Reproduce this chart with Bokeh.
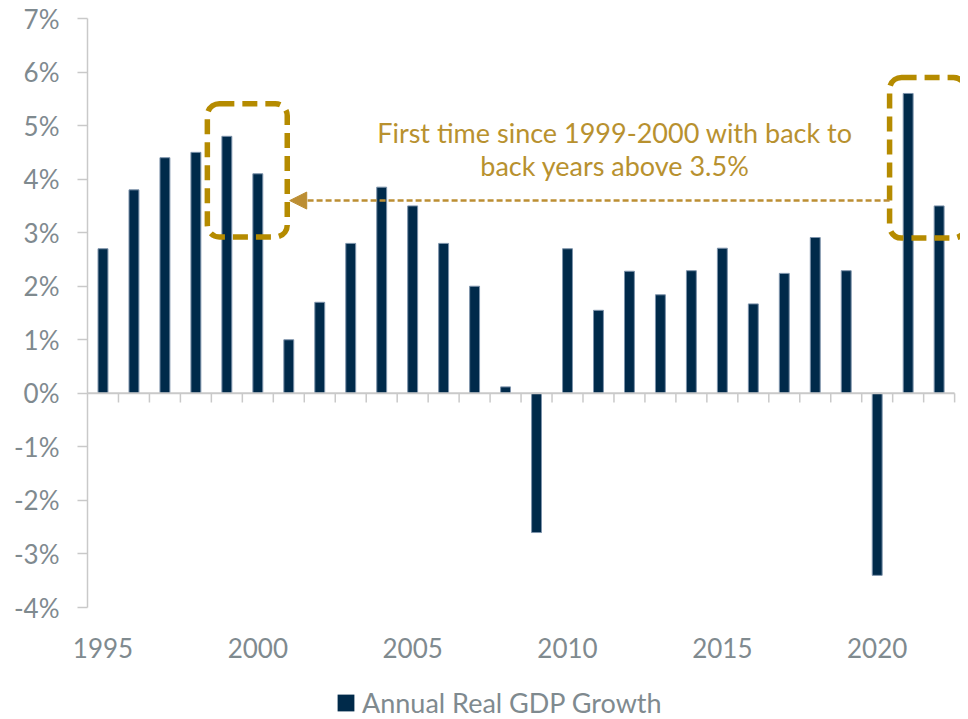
from bokeh.plotting import figure
from bokeh.layouts import column
from bokeh.models import (FixedTicker, LinearAxis, Range1d, BoxAnnotation, Arrow, NormalHead,
                          Label, Legend, LegendItem)
from bokeh.embed import file_html
from bokeh.resources import INLINE

# ---- data ----
years = list(range(1995, 2023))
growth = [2.7, 3.8, 4.4, 4.5, 4.8, 4.1, 1.0, 1.7, 2.8, 3.85, 3.5, 2.8, 2.0, 0.12, -2.6,
          2.7, 1.55, 2.28, 1.84, 2.29, 2.71, 1.67, 2.24, 2.91, 2.29, -3.4, 5.6, 3.5]
y_ticks = [-4, -3, -2, -1, 0, 1, 2, 3, 4, 5, 6, 7]
x_ticks = [1995, 2000, 2005, 2010, 2015, 2020]
series_name = "Annual Real GDP Growth"
note_lines = ["First time since 1999-2000 with back to", "back years above 3.5%"]

# annotation geometry (data units)
box1 = dict(left=1998.37, right=2000.95, bottom=2.92, top=5.41)
box2 = dict(left=2020.40, right=2022.85, bottom=2.90, top=5.90)
arrow_y = 3.6
note_x = 2011.53
note_y = [4.88, 4.26]

FONT = "Lato"
GRAY = "#7f8a8f"
AXIS = "#c9c9c9"
NAVY = "#002a4a"
BAR_EDGE = "#7d93ab"
GOLD_BOX = "#b58b00"
GOLD_TXT = "#b8912f"
GOLD_ARROW = "#bc8e33"

p = figure(width=960, height=664, output_backend="svg", toolbar_location=None,
           x_range=Range1d(years[0] - 0.5, 2022.69), y_range=Range1d(y_ticks[0], y_ticks[-1]),
           min_border_left=87, min_border_right=0, min_border_top=18, min_border_bottom=57,
           x_axis_location=None, y_axis_location=None)
p.outline_line_color = None
p.grid.visible = False

# y axis
yax = LinearAxis(ticker=FixedTicker(ticks=y_ticks),
                 major_label_overrides={t: f"{t}%" for t in y_ticks})
yax.axis_line_color = AXIS
yax.axis_line_width = 1.5
yax.major_tick_line_color = AXIS
yax.major_tick_line_width = 1.5
yax.major_tick_in = 0
yax.major_tick_out = 10
yax.minor_tick_line_color = None
yax.major_label_text_font = FONT
yax.major_label_text_font_size = "26px"
yax.major_label_text_color = GRAY
yax.major_label_standoff = 18
p.add_layout(yax, "left")

# x axis (labels only)
xax = LinearAxis(ticker=FixedTicker(ticks=x_ticks))
xax.axis_line_color = None
xax.major_tick_line_color = None
xax.minor_tick_line_color = None
xax.major_label_text_font = FONT
xax.major_label_text_font_size = "26px"
xax.major_label_text_color = GRAY
xax.major_label_standoff = 24
p.add_layout(xax, "below")

# bars
p.vbar(x=years, top=growth, width=0.32, fill_color=NAVY, line_color=BAR_EDGE, line_width=1)

# zero line and category ticks
edges = [y + 0.5 for y in years]
p.segment(x0=[years[0] - 0.5], x1=[years[-1] + 0.5], y0=[0], y1=[0], line_color=AXIS, line_width=2)
p.segment(x0=edges, x1=edges, y0=[0] * len(edges), y1=[-0.17] * len(edges), line_color=AXIS, line_width=1.5)

# highlight boxes
for b in (box1, box2):
    p.add_layout(BoxAnnotation(left=b["left"], right=b["right"], bottom=b["bottom"], top=b["top"],
                               fill_alpha=0, line_color=GOLD_BOX, line_alpha=1, line_width=5.5,
                               line_dash="15 8", border_radius=12))

# arrow
p.add_layout(Arrow(end=NormalHead(size=17, fill_color=GOLD_ARROW, line_color=GOLD_ARROW),
                   x_start=box2["left"], y_start=arrow_y, x_end=box1["right"] + 0.08, y_end=arrow_y,
                   line_color=GOLD_ARROW, line_width=2.5, line_dash="6 3"))

# note text
for t, yy in zip(note_lines, note_y):
    p.add_layout(Label(x=note_x, y=yy, text=t, text_align="center", text_baseline="middle",
                       text_font=FONT, text_font_size="27px", text_color=GOLD_TXT))

# legend strip below the chart (its series is drawn out of view; only the legend swatch shows)
lg = figure(width=960, height=55, output_backend="svg", toolbar_location=None,
            x_range=Range1d(0, 1), y_range=Range1d(100, 101), min_border=0,
            x_axis_location=None, y_axis_location=None)
lg.outline_line_color = None
lg.grid.visible = False
swatch = lg.vbar(x=years, top=growth, width=0.8, fill_color=NAVY, line_color=None)
legend = Legend(items=[LegendItem(label=series_name, renderers=[swatch])], location=(248, 0),
                orientation="horizontal", border_line_color=None, background_fill_alpha=0,
                label_text_font=FONT, label_text_font_size="27px", label_text_color=GRAY,
                glyph_width=21, glyph_height=21, label_height=28, margin=0, padding=0,
                label_standoff=6)
lg.add_layout(legend, "center")

layout = column(p, lg, spacing=0)
open("out.html", "w").write(file_html(layout, INLINE))
